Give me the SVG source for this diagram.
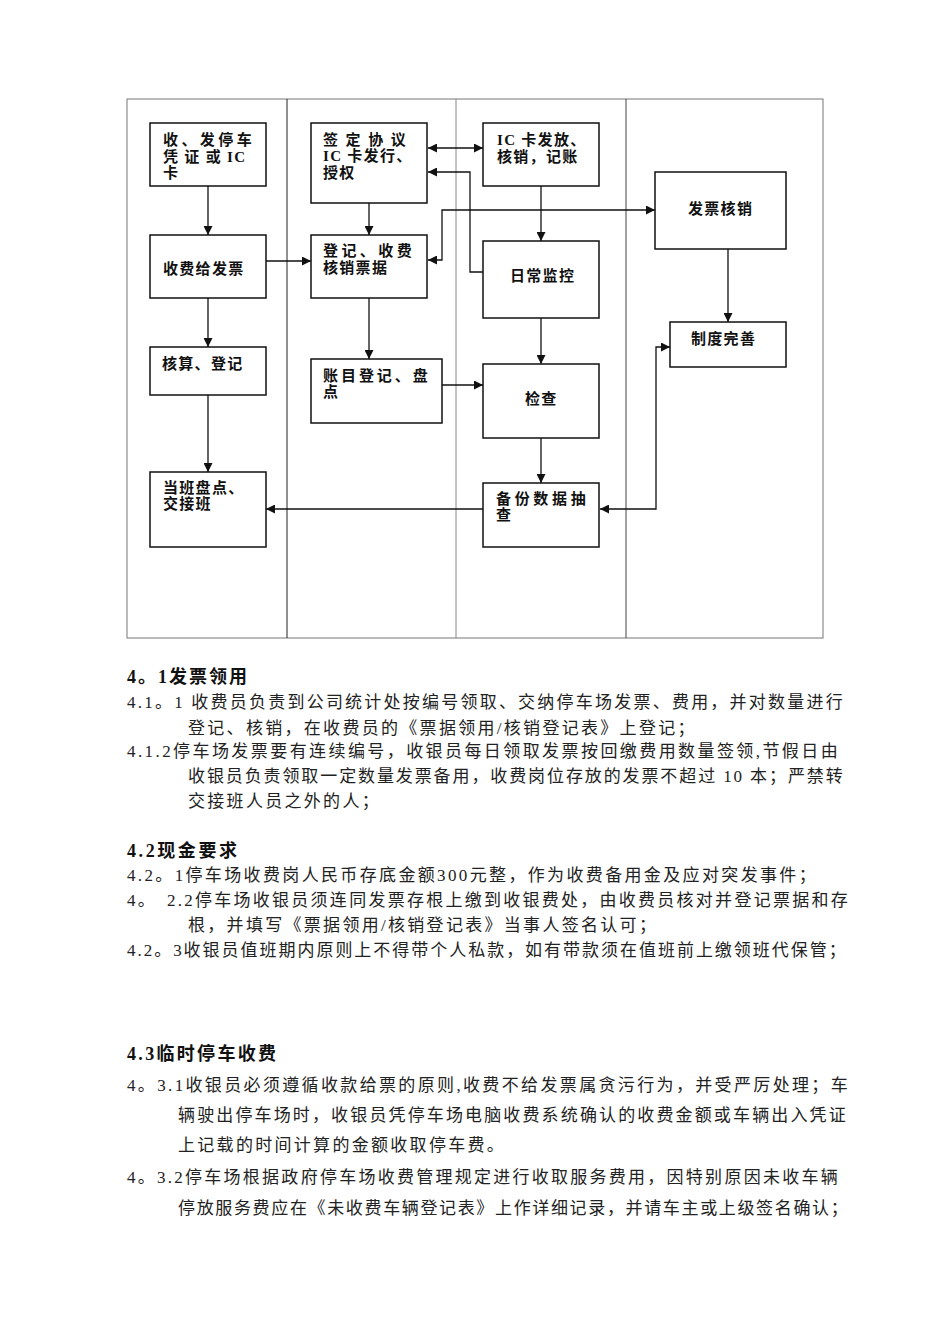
<svg xmlns="http://www.w3.org/2000/svg" width="950" height="1344" viewBox="0 0 950 1344">
<style>
.bg{fill:#fff}
.box{fill:#fff;stroke:#111;stroke-width:1.5}
.bt{font-family:"Liberation Serif","Noto Sans CJK SC",sans-serif;font-size:15px;font-weight:bold;fill:#111;letter-spacing:1.3px}
.con{fill:none;stroke:#111;stroke-width:1.3}
.h{font-family:"Liberation Serif","Noto Sans CJK SC",sans-serif;font-size:18px;font-weight:bold;fill:#111}
.p{font-family:"Liberation Serif","Noto Sans CJK SC",serif;font-size:17px;fill:#222;letter-spacing:2.3px}
</style>
<defs>
<marker id="ah" viewBox="0 0 10 10" refX="10" refY="5" markerWidth="10" markerHeight="9" markerUnits="userSpaceOnUse" orient="auto-start-reverse">
<path d="M0,0 L10,5 L0,10 z" fill="#111"/>
</marker>
</defs>
<rect class="bg" x="0" y="0" width="950" height="1344"/>
<g id="frame">
<rect x="127" y="99" width="696" height="539" fill="none" stroke="#777" stroke-width="1"/>
<line x1="287" y1="99" x2="287" y2="638" stroke="#222" stroke-width="1"/>
<line x1="456" y1="99" x2="456" y2="638" stroke="#888" stroke-width="1"/>
<line x1="626" y1="99" x2="626" y2="638" stroke="#444" stroke-width="1"/>
</g>
<g id="connectors">
<path class="con" d="M208,186 V235" marker-end="url(#ah)"/>
<path class="con" d="M266,261 H311" marker-end="url(#ah)"/>
<path class="con" d="M369,203 V235" marker-end="url(#ah)"/>
<path class="con" d="M208,298 V347" marker-end="url(#ah)"/>
<path class="con" d="M369,298 V359" marker-end="url(#ah)"/>
<path class="con" d="M208,395 V472" marker-end="url(#ah)"/>
<path class="con" d="M428,148 H483" marker-start="url(#ah)" marker-end="url(#ah)"/>
<path class="con" d="M483,272 H470 V172 H428" marker-end="url(#ah)"/>
<path class="con" d="M428,260 H442 V210 H655" marker-start="url(#ah)" marker-end="url(#ah)"/>
<path class="con" d="M541,186 V241" marker-end="url(#ah)"/>
<path class="con" d="M728,249 V322" marker-end="url(#ah)"/>
<path class="con" d="M541,318 V364" marker-end="url(#ah)"/>
<path class="con" d="M442,385 H483" marker-end="url(#ah)"/>
<path class="con" d="M541,438 V483" marker-end="url(#ah)"/>
<path class="con" d="M483,509 H266" marker-end="url(#ah)"/>
<path class="con" d="M600,509 H656 V347 H670" marker-start="url(#ah)" marker-end="url(#ah)"/>
</g>
<g id="n1">
<rect class="box" x="150" y="123" width="116" height="63"/>
<text class="bt" x="163" y="145" textLength="90" lengthAdjust="spacing">收、发停车</text>
<text class="bt" x="163" y="162">凭 证 或 IC</text>
<text class="bt" x="163" y="178">卡</text>
</g>
<g id="n2">
<rect class="box" x="150" y="235" width="116" height="63"/>
<text class="bt" x="163" y="274">收费给发票</text>
</g>
<g id="n3">
<rect class="box" x="311" y="123" width="116" height="80"/>
<text class="bt" x="323" y="145" textLength="84" lengthAdjust="spacing">签 定 协 议</text>
<text class="bt" x="323" y="161">IC 卡发行、</text>
<text class="bt" x="323" y="178">授权</text>
</g>
<g id="n4">
<rect class="box" x="311" y="235" width="116" height="63"/>
<text class="bt" x="323" y="256" textLength="90" lengthAdjust="spacing">登记、收费</text>
<text class="bt" x="323" y="273">核销票据</text>
</g>
<g id="n5">
<rect class="box" x="483" y="123" width="116" height="63"/>
<text class="bt" x="497" y="145">IC 卡发放、</text>
<text class="bt" x="497" y="162">核销，记账</text>
</g>
<g id="n6">
<rect class="box" x="655" y="172" width="131" height="77"/>
<text class="bt" x="688" y="214">发票核销</text>
</g>
<g id="n7">
<rect class="box" x="483" y="241" width="116" height="77"/>
<text class="bt" x="510" y="281">日常监控</text>
</g>
<g id="n8">
<rect class="box" x="150" y="347" width="116" height="48"/>
<text class="bt" x="162" y="369">核算、登记</text>
</g>
<g id="n9">
<rect class="box" x="311" y="359" width="131" height="64"/>
<text class="bt" x="323" y="381" textLength="106" lengthAdjust="spacing">账目登记、盘</text>
<text class="bt" x="323" y="397">点</text>
</g>
<g id="n10">
<rect class="box" x="150" y="472" width="116" height="75"/>
<text class="bt" x="163" y="493">当班盘点、</text>
<text class="bt" x="163" y="509">交接班</text>
</g>
<g id="n11">
<rect class="box" x="670" y="322" width="116" height="45"/>
<text class="bt" x="691" y="344">制度完善</text>
</g>
<g id="n12">
<rect class="box" x="483" y="364" width="116" height="74"/>
<text class="bt" x="525" y="404">检查</text>
</g>
<g id="n13">
<rect class="box" x="483" y="483" width="116" height="64"/>
<text class="bt" x="496" y="504" textLength="91" lengthAdjust="spacing">备份数据抽</text>
<text class="bt" x="496" y="520">查</text>
</g>
<g id="body">
<text class="h" x="127" y="683" textLength="120" lengthAdjust="spacing">4。1发票领用</text>
<text class="p" x="127" y="708" textLength="718" lengthAdjust="spacing">4.1。1 收费员负责到公司统计处按编号领取、交纳停车场发票、费用，并对数量进行</text>
<text class="p" x="188" y="734">登记、核销，在收费员的《票据领用/核销登记表》上登记；</text>
<text class="p" x="127" y="757" textLength="713" lengthAdjust="spacing">4.1.2停车场发票要有连续编号，收银员每日领取发票按回缴费用数量签领,节假日由</text>
<text class="p" x="188" y="782" textLength="657" lengthAdjust="spacing">收银员负责领取一定数量发票备用，收费岗位存放的发票不超过 10 本；严禁转</text>
<text class="p" x="188" y="807">交接班人员之外的人；</text>
<text class="h" x="127" y="857" textLength="110" lengthAdjust="spacing">4.2现金要求</text>
<text class="p" x="127" y="881" textLength="691" lengthAdjust="spacing">4.2。1停车场收费岗人民币存底金额300元整，作为收费备用金及应对突发事件；</text>
<text class="p" x="127" y="906">4。</text>
<text class="p" x="167" y="906" textLength="683" lengthAdjust="spacing">2.2停车场收银员须连同发票存根上缴到收银费处，由收费员核对并登记票据和存</text>
<text class="p" x="188" y="931">根，并填写《票据领用/核销登记表》当事人签名认可；</text>
<text class="p" x="127" y="956" textLength="721" lengthAdjust="spacing">4.2。3收银员值班期内原则上不得带个人私款，如有带款须在值班前上缴领班代保管；</text>
<text class="h" x="127" y="1060" textLength="149" lengthAdjust="spacing">4.3临时停车收费</text>
<text class="p" x="127" y="1091" textLength="723" lengthAdjust="spacing">4。3.1收银员必须遵循收款给票的原则,收费不给发票属贪污行为，并受严厉处理；车</text>
<text class="p" x="178" y="1121" textLength="670" lengthAdjust="spacing">辆驶出停车场时，收银员凭停车场电脑收费系统确认的收费金额或车辆出入凭证</text>
<text class="p" x="178" y="1151">上记载的时间计算的金额收取停车费。</text>
<text class="p" x="127" y="1183" textLength="713" lengthAdjust="spacing">4。3.2停车场根据政府停车场收费管理规定进行收取服务费用，因特别原因未收车辆</text>
<text class="p" x="178" y="1214" textLength="672" lengthAdjust="spacing">停放服务费应在《未收费车辆登记表》上作详细记录，并请车主或上级签名确认；</text>
</g>
</svg>
